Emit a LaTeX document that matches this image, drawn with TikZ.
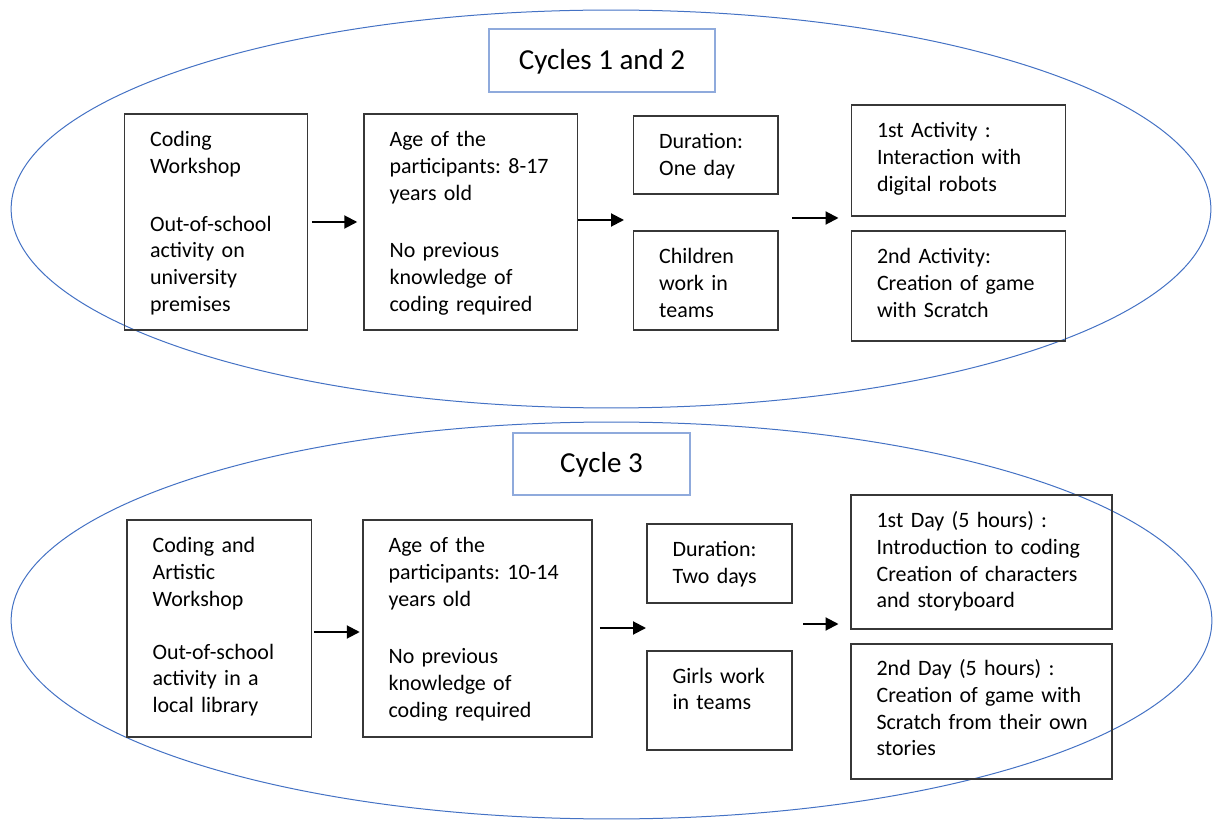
\documentclass[tikz,border=0pt]{standalone}
\usepackage{fontspec}
\setmainfont{Carlito}
\usetikzlibrary{arrows.meta,fit}
\frenchspacing

\definecolor{ringblue}{RGB}{68,114,196}
\definecolor{headblue}{RGB}{143,170,220}
\definecolor{boxline}{RGB}{55,55,55}

\tikzset{
  card/.style={draw=boxline, line width=0.03cm, inner sep=0pt},
  cardtext/.style={anchor=base west, inner sep=0pt, text width=5cm, align=left,
    font=\fontsize{12.5}{15.2}\selectfont},
  head/.style={draw=headblue, line width=0.03cm, inner sep=0pt},
  headtext/.style={anchor=base, inner sep=0pt, font=\fontsize{16.5}{20}\selectfont},
  ring/.style={draw=ringblue, line width=0.02cm},
  flow/.style={-{Triangle[length=0.26cm,width=0.26cm]}, line width=0.04cm},
}

\begin{document}
\begin{tikzpicture}[x=0.02cm,y=-0.02cm]
    % picture size in pixels of the reference
    \useasboundingbox (0,0) rectangle (1213,820);

    % Cycles 1 and 2
    \draw[ring] (611,209) ellipse [x radius=12cm, y radius=3.98cm];
    \node[head, fit={(489,29) (715,92)}] (title12) {};
    \node[headtext] (title12txt) at ([yshift=0.46cm]title12.south) {Cycles 1 and 2};

    \node[card, fit={(124.5,114) (307.6,330)}] (work1) {};
    \node[card, fit={(364,114) (577.7,330)}] (age1) {};
    \node[card, fit={(633.6,116) (778,194)}] (dur1) {};
    \node[card, fit={(633.6,231) (778,330)}] (team1) {};
    \node[card, fit={(851.4,105) (1065.6,216)}] (act1) {};
    \node[card, fit={(851.4,231) (1065.6,341)}] (act2) {};

    \node[cardtext] (work1txt) at ([shift={(26,33.5)}]work1.north west)
      {Coding\\Workshop\\[17.6pt]Out-of-school\\activity on\\university\\premises};
    \node[cardtext] (age1txt) at ([shift={(26,33.5)}]age1.north west)
      {Age of the\\participants: 8-17\\years old\\[17.6pt]No previous\\knowledge of\\coding required};
    \node[cardtext] (dur1txt) at ([shift={(26,33.5)}]dur1.north west) {Duration:\\One day};
    \node[cardtext] (team1txt) at ([shift={(26,33.5)}]team1.north west) {Children\\work in\\teams};
    \node[cardtext] (act1txt) at ([shift={(26,33.5)}]act1.north west)
      {1st Activity :\\Interaction with\\digital robots};
    \node[cardtext] (act2txt) at ([shift={(26,33.5)}]act2.north west)
      {2nd Activity:\\Creation of game\\with Scratch};

    % arrows
    \coordinate (fork1) at (624,220);
    \coordinate (gap1a) at (792,218);
    \coordinate (gap1b) at (838.5,218);
    \draw[flow, shorten <=0.07cm, shorten >=0.12cm] (work1.east) -- (age1.west);
    \draw[flow] (age1.east |- fork1) -- (fork1);
    \draw[flow] (gap1a) -- (gap1b);

    % Cycle 3
    \draw[ring] (611.5,620.5) ellipse [x radius=12.01cm, y radius=3.97cm];
    \node[head, fit={(513,433) (690,495)}] (title3) {};
    \node[headtext] (title3txt) at ([yshift=0.466cm]title3.south) {Cycle 3};

    \node[card, fit={(127,520) (311.6,737)}] (work3) {};
    \node[card, fit={(363,520) (592,737)}] (age3) {};
    \node[card, fit={(647,524) (792,603)}] (dur3) {};
    \node[card, fit={(647,651) (792,750)}] (team3) {};
    \node[card, fit={(851,495) (1112,629)}] (day1) {};
    \node[card, fit={(851,644) (1112,779)}] (day2) {};

    \node[cardtext] (work3txt) at ([shift={(26,33.5)}]work3.north west)
      {Coding and\\Artistic\\Workshop\\[15pt]Out-of-school\\activity in a\\local library};
    \node[cardtext] (age3txt) at ([shift={(26,33.5)}]age3.north west)
      {Age of the\\participants: 10-14\\years old\\[17.6pt]No previous\\knowledge of\\coding required};
    \node[cardtext] (dur3txt) at ([shift={(26,33.5)}]dur3.north west) {Duration:\\Two days};
    \node[cardtext] (team3txt) at ([shift={(26,33)}]team3.north west) {Girls work\\in teams};
    \node[cardtext] (day1txt) at ([shift={(26,33.5)}]day1.north west)
      {1st Day (5 hours) :\\Introduction to coding\\Creation of characters\\and storyboard};
    \node[cardtext] (day2txt) at ([shift={(26,32.5)}]day2.north west)
      {2nd Day (5 hours) :\\Creation of game with\\Scratch from their own\\stories};

    % arrows
    \coordinate (fork3) at (646,628);
    \coordinate (gap3a) at (803,624);
    \coordinate (gap3b) at (838.5,624);
    \draw[flow, shorten <=0.03cm, shorten >=0.05cm] ([yshift=-0.07cm]work3.east) -- ([yshift=-0.07cm]age3.west);
    \draw[flow, shorten <=0.14cm] (age3.east |- fork3) -- (fork3);
    \draw[flow] (gap3a) -- (gap3b);
\end{tikzpicture}
\end{document}
